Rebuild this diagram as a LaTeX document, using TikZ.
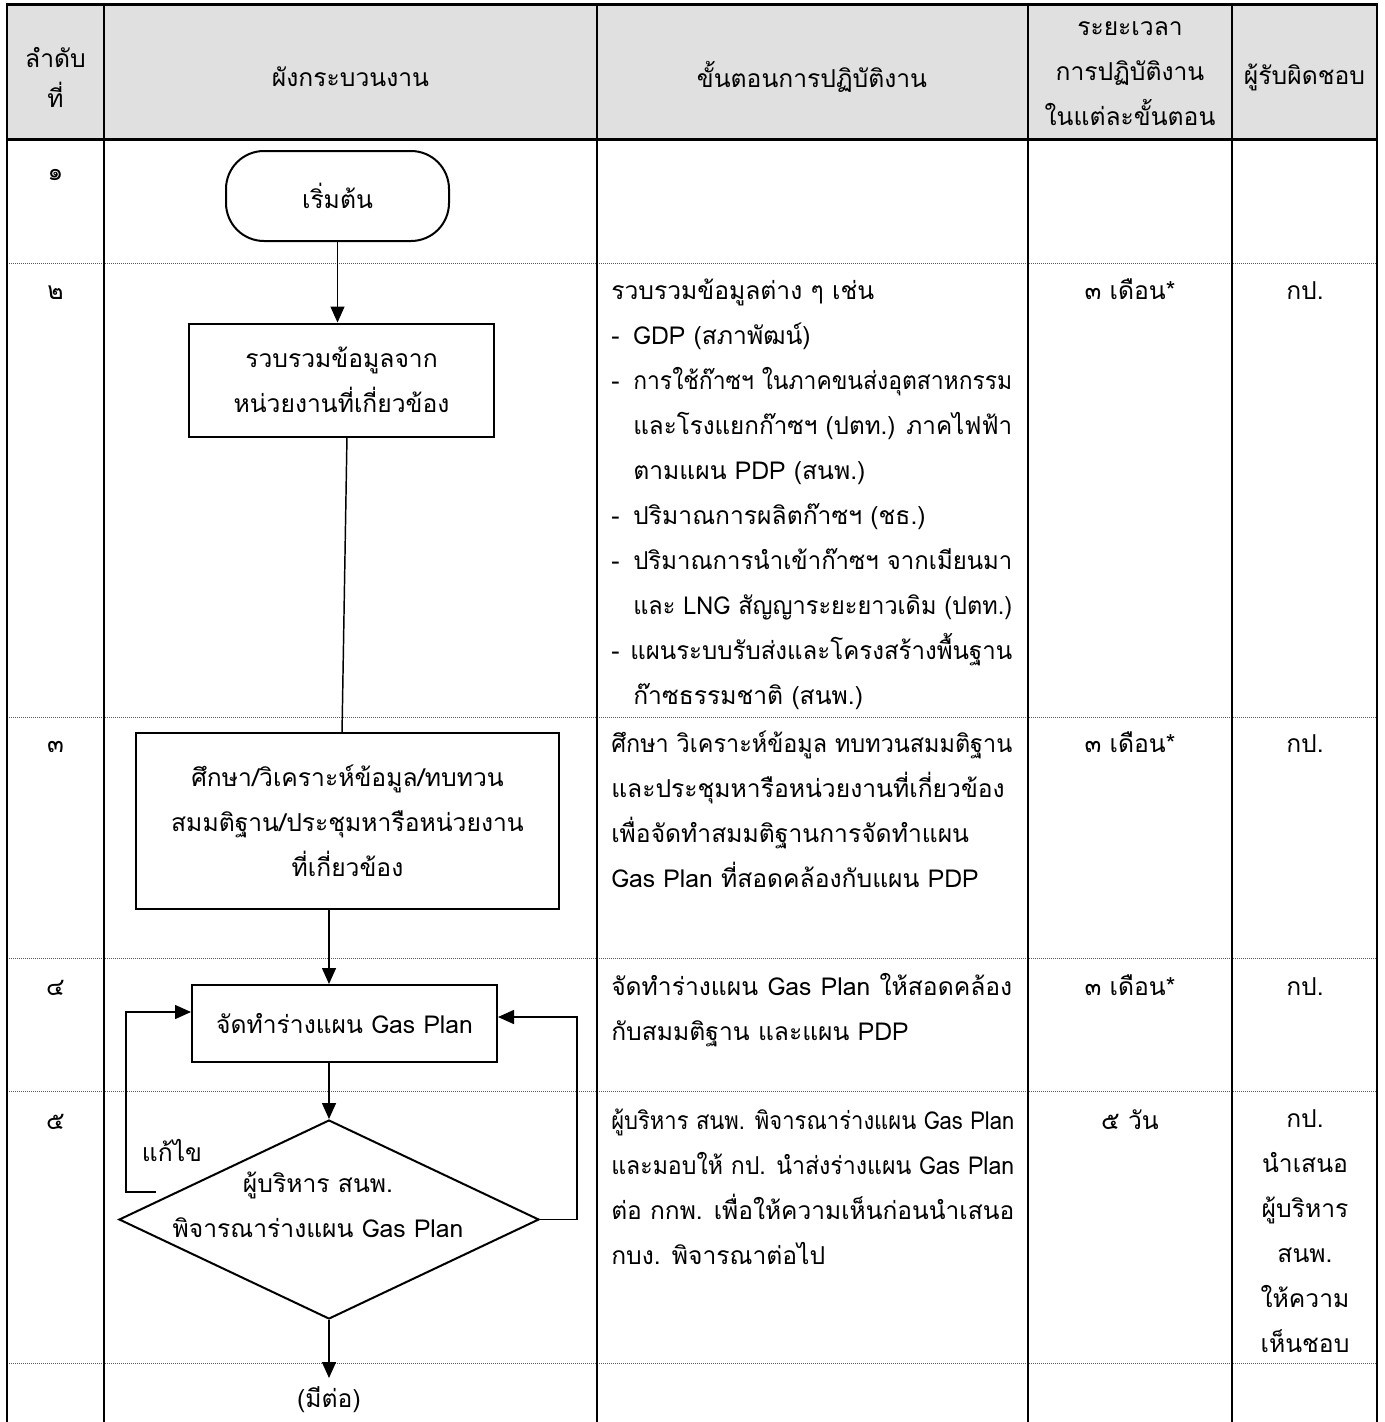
\documentclass[tikz,border=0pt]{standalone}
\usepackage{fontspec}
\usepackage{graphicx}
\setmainfont[Script=Thai]{Loma}
\usetikzlibrary{arrows.meta,shapes.geometric}
\definecolor{hdrgray}{HTML}{E0E0E0}
\newdimen\px \px=0.75pt
\newsavebox\jbox
\newcommand{\jfit}[2]{\sbox\jbox{#2}\ifdim\wd\jbox>#1\relax\resizebox{#1}{\height}{\usebox\jbox}\else\makebox[#1][s]{#2}\fi}
\newcommand{\dsh}{\makebox[22\px][l]{-}}
\newcommand{\ind}{\hspace*{22\px}}
\newcommand{\cellL}[1]{\parbox[t]{430\px}{#1}}
\newcommand{\cellC}[1]{\parbox[t]{140\px}{\centering #1}}
\begin{document}
\begin{tikzpicture}[x=0.75pt,y=-0.75pt,
  every node/.style={inner sep=0pt, font=\fontsize{18.5}{33.75}\selectfont},
  vline/.style={line width=1.9pt},
  hline/.style={line width=2.25pt},
  dotline/.style={line width=0.75pt, black!65, dash pattern=on 0.75pt off 0.75pt},
  shp/.style={draw, line width=1.5pt, align=center},
  ln/.style={line width=1.1pt},
  arr/.style={line width=1.1pt, -{Triangle[length=12pt,width=10.5pt]}},
  cell/.style={anchor=base west},
  cen/.style={anchor=base},
  hd/.style={align=center},
]
\useasboundingbox (0,0) rectangle (1385,1422);
% table
\fill[hdrgray] (7,4) rectangle (1377,139);
\foreach \yy in {263,717,958,1091,1363} \draw[dotline] (7,\yy) -- (1377,\yy);
\foreach \xx in {7,104,597,1028,1232,1377} \draw[vline] (\xx,3) -- (\xx,1422);
\draw[hline] (6,4) -- (1378,4);
\draw[hline] (6,139) -- (1378,139);
% header
\node[hd, font=\fontsize{18.5}{30}\selectfont] (h1) at (55.5,77) {ลำดับ\\ที่};
\node[hd] (h2) at (350.5,77) {ผังกระบวนงาน};
\node[hd] (h3) at (812,77) {ขั้นตอนการปฏิบัติงาน};
\node[hd] (h4) at (1130,74) {ระยะเวลา\\การปฏิบัติงาน\\ในแต่ละขั้นตอน};
\node[hd] (h5) at (1304.5,77) {ผู้รับผิดชอบ};
% numbers
\node[cen] (n1) at (55.5,180) {๑};
\node[cen] (n2) at (55.5,299) {๒};
\node[cen] (n3) at (55.5,752) {๓};
\node[cen] (n4) at (55.5,995) {๔};
\node[cen] (n5) at (55.5,1129) {๕};
% step descriptions
\node[cell] (t2) at (611,299) {\cellL{%
รวบรวมข้อมูลต่าง ๆ เช่น\\
\dsh GDP (สภาพัฒน์)\\
\dsh\jfit{379\px}{การใช้ก๊าซฯ ในภาคขนส่งอุตสาหกรรม}\\
\ind\jfit{379\px}{และโรงแยกก๊าซฯ (ปตท.) ภาคไฟฟ้า}\\
\ind ตามแผน PDP (สนพ.)\\
\dsh ปริมาณการผลิตก๊าซฯ (ชธ.)\\
\dsh\jfit{379\px}{ปริมาณการนำเข้าก๊าซฯ จากเมียนมา}\\
\ind\jfit{379\px}{และ LNG สัญญาระยะยาวเดิม (ปตท.)}\\
\makebox[19\px][l]{-}\jfit{382\px}{แผนระบบรับส่งและโครงสร้างพื้นฐาน}\\
\ind ก๊าซธรรมชาติ (สนพ.)}};
\node[cell] (t3) at (611,752) {\cellL{%
\jfit{401\px}{ศึกษา วิเคราะห์ข้อมูล ทบทวนสมมติฐาน}\\
\jfit{401\px}{และประชุมหารือหน่วยงานที่เกี่ยวข้อง}\\
เพื่อจัดทำสมมติฐานการจัดทำแผน\\
Gas Plan ที่สอดคล้องกับแผน PDP}};
\node[cell] (t4) at (611,995) {\cellL{%
\jfit{401\px}{จัดทำร่างแผน Gas Plan ให้สอดคล้อง}\\
กับสมมติฐาน และแผน PDP}};
\node[cell] (t5) at (611,1129) {\cellL{%
\jfit{403\px}{ผู้บริหาร สนพ. พิจารณาร่างแผน Gas Plan}\\
\jfit{403\px}{และมอบให้ กป. นำส่งร่างแผน Gas Plan}\\
\jfit{403\px}{ต่อ กกพ. เพื่อให้ความเห็นก่อนนำเสนอ}\\
กบง. พิจารณาต่อไป}};
% durations
\node[cen] (d2) at (1130,299) {๓ เดือน*};
\node[cen] (d3) at (1130,752) {๓ เดือน*};
\node[cen] (d4) at (1130,995) {๓ เดือน*};
\node[cen] (d5) at (1130,1129) {๕ วัน};
% responsible
\node[cen] (r2) at (1305,299) {กป.};
\node[cen] (r3) at (1305,752) {กป.};
\node[cen] (r4) at (1305,995) {กป.};
\node[cen] (r5) at (1305,1127) {\cellC{กป.\\นำเสนอ\\ผู้บริหาร\\สนพ.\\ให้ความ\\เห็นชอบ}};
% flowchart
\node[shp, rounded corners=28.5pt, minimum width=167.25pt, minimum height=67.5pt] (term) at (337.5,196) {เริ่มต้น};
\node[shp, minimum width=228.75pt, minimum height=84.75pt] (box2) at (341.5,380) {รวบรวมข้อมูลจาก\\หน่วยงานที่เกี่ยวข้อง};
\node[shp, minimum width=317.25pt, minimum height=132pt] (box3) at (347.5,821) {ศึกษา/วิเคราะห์ข้อมูล/ทบทวน\\สมมติฐาน/ประชุมหารือหน่วยงาน\\ที่เกี่ยวข้อง};
\node[shp, minimum width=228.75pt, minimum height=57.75pt] (box4) at (344.5,1023.5) {จัดทำร่างแผน Gas Plan};
\node[shp, diamond, minimum width=315pt, minimum height=149.25pt] (dia) at (329,1219.5) {};
\node[align=center] (diatxt) at (318,1205) {ผู้บริหาร สนพ.\\พิจารณาร่างแผน Gas Plan};
\node (fix) at (172,1150) {แก้ไข};
\node (more) at (329,1400) {(มีต่อ)};
\coordinate (lstart) at (156,1192);
\coordinate (lcor) at (126,1012);
\coordinate (rcor) at (577,1017);
\coordinate (contarr) at (329,1378);
\draw[arr] (term.south) -- (term.south |- box2.north);
\draw[ln] ([xshift=4.1pt]box2.south) -- ([xshift=-4.1pt]box3.north);
\draw[arr] (box3.south -| dia.north) -- (box4.north -| dia.north);
\draw[arr] (box4.south -| dia.north) -- (dia.north);
\draw[arr] (lstart) -| (lcor) -- (lcor -| box4.west);
\draw[arr] (dia.east) -| (rcor) -- (rcor -| box4.east);
\draw[arr] (dia.south) -- (contarr);
\end{tikzpicture}
\end{document}
